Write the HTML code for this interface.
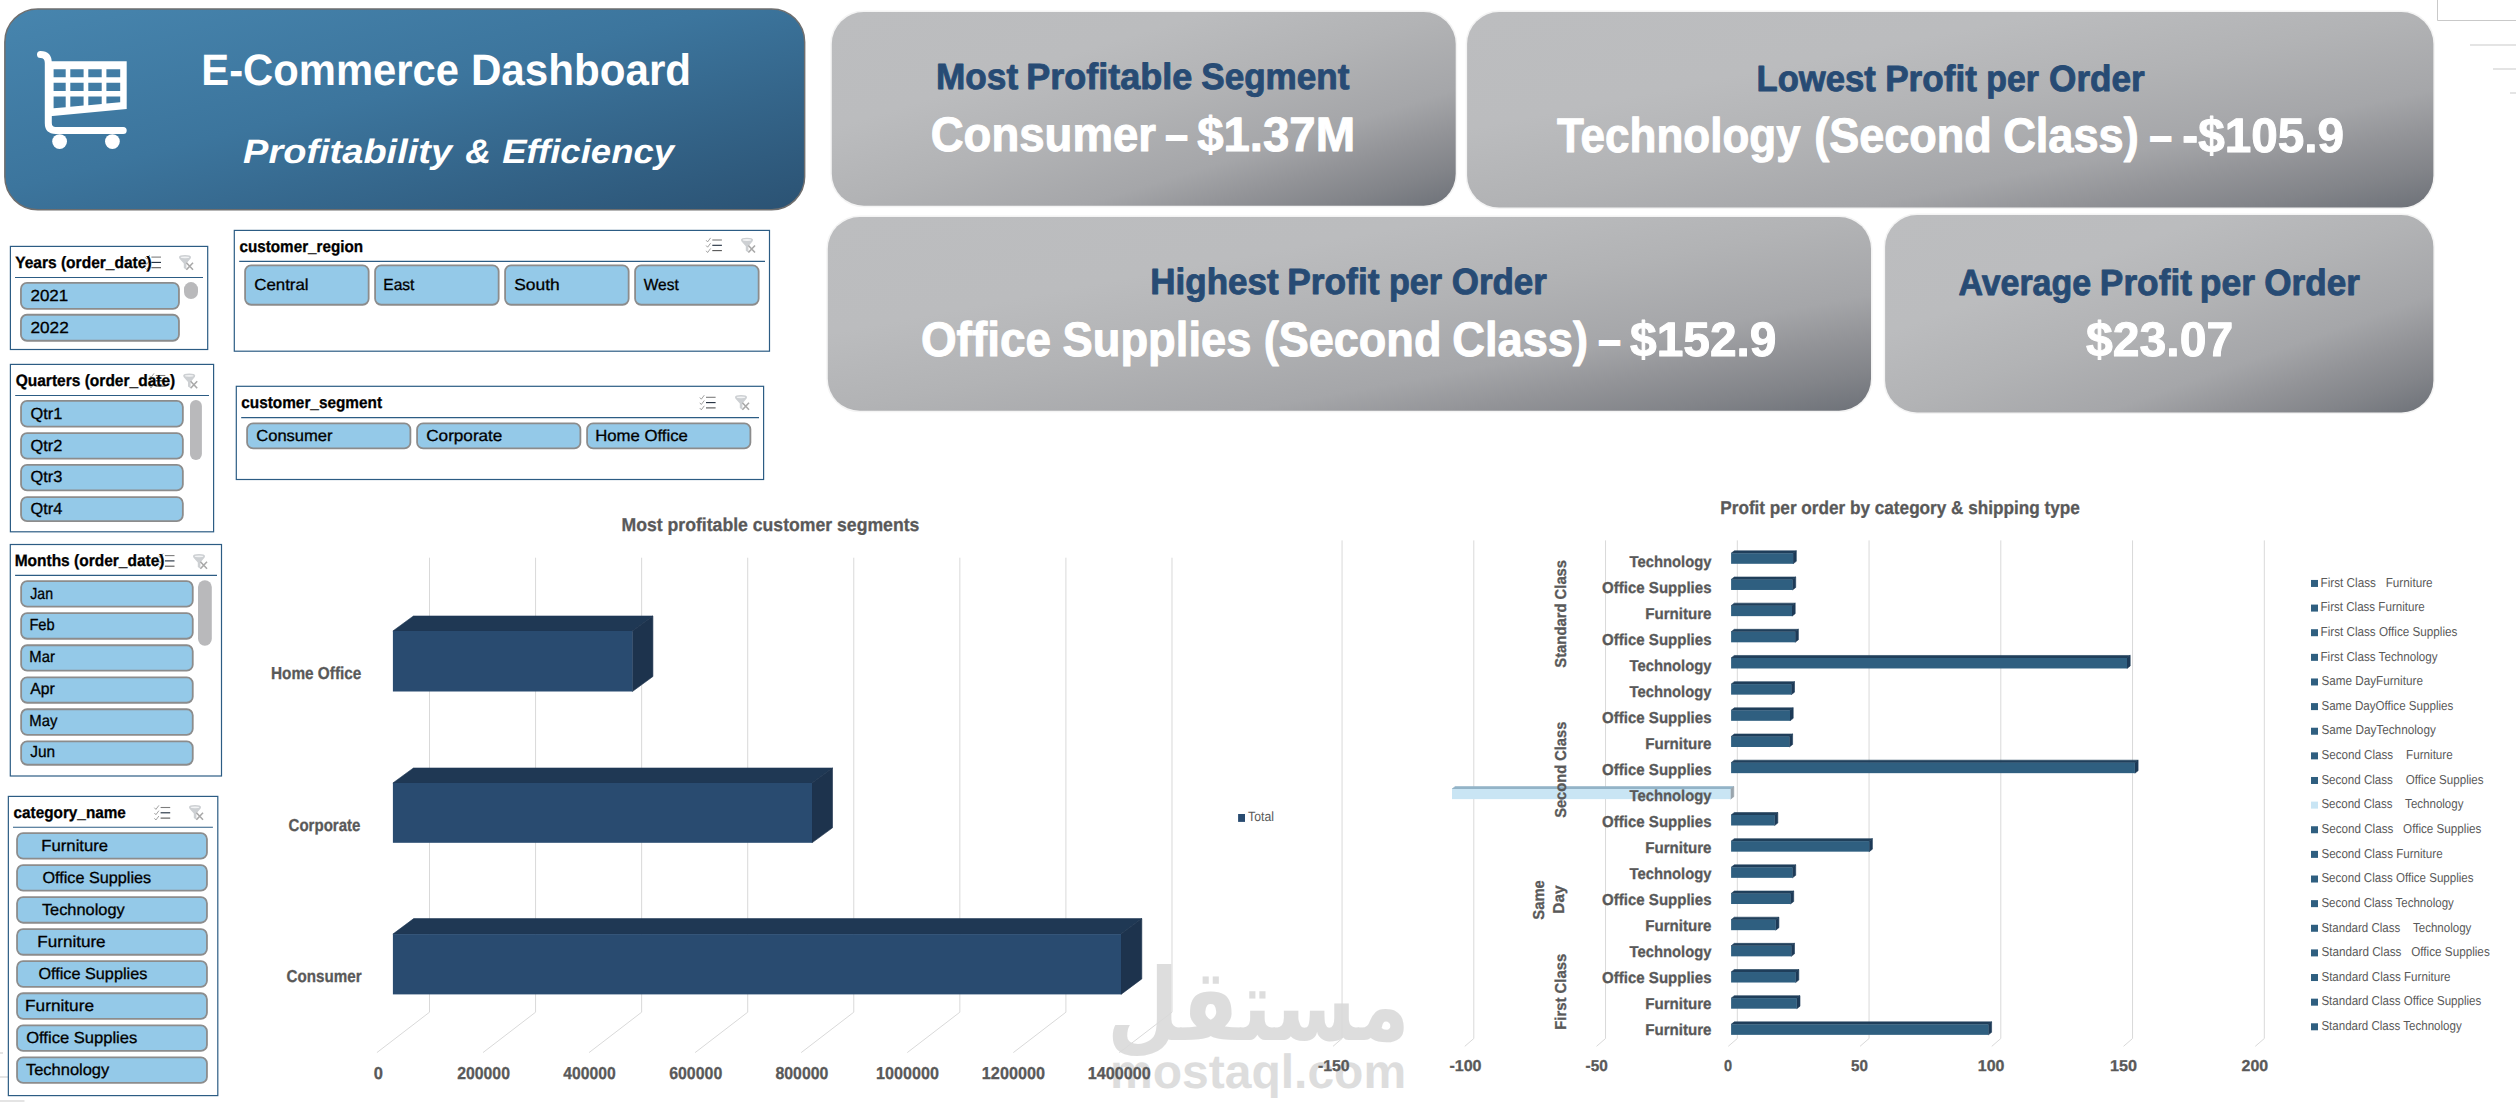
<!DOCTYPE html>
<html lang="en"><head><meta charset="utf-8"><title>E-Commerce Dashboard</title>
<style>html,body{margin:0;padding:0;background:#fff;width:2516px;height:1120px;overflow:hidden}svg{display:block}text{white-space:pre}</style></head>
<body>
<svg width="2516" height="1120" viewBox="0 0 2516 1120" font-family="'Liberation Sans', sans-serif" text-rendering="geometricPrecision">
<defs>
<linearGradient id="gh" x1="0" y1="0" x2="1" y2="1">
<stop offset="0" stop-color="#4785ae"/><stop offset="0.45" stop-color="#3c759d"/><stop offset="1" stop-color="#2b5273"/>
</linearGradient>
<linearGradient id="gk" x1="0" y1="0" x2="1" y2="1">
<stop offset="0" stop-color="#bcbdbf"/><stop offset="0.3" stop-color="#bbbcbe"/><stop offset="0.5" stop-color="#b2b3b5"/>
<stop offset="0.7" stop-color="#a5a6a9"/><stop offset="0.8" stop-color="#939498"/><stop offset="0.9" stop-color="#828489"/><stop offset="1" stop-color="#6d7178"/>
</linearGradient>
</defs>
<path d="M2437.5 0V20.5H2516" fill="none" stroke="#c9c9c9" stroke-width="1"/>
<line x1="2470.00" y1="45.00" x2="2516.00" y2="45.00" stroke="#c9c9c9" stroke-width="1"/>
<line x1="2493.00" y1="69.00" x2="2516.00" y2="69.00" stroke="#c9c9c9" stroke-width="1"/>
<line x1="2510.00" y1="93.00" x2="2516.00" y2="93.00" stroke="#c9c9c9" stroke-width="1"/>
<line x1="0.00" y1="1053.00" x2="3.00" y2="1053.00" stroke="#c9c9c9" stroke-width="1"/>
<line x1="0.00" y1="1077.00" x2="8.00" y2="1077.00" stroke="#c9c9c9" stroke-width="1"/>
<line x1="0.00" y1="1101.00" x2="24.50" y2="1101.00" stroke="#c9c9c9" stroke-width="1"/>
<rect x="4.85" y="8.90" width="799.80" height="200.90" rx="33" fill="url(#gh)" stroke="#6e6e6e" stroke-width="1.5"/>
<g fill="none" stroke="#fff" stroke-width="7" stroke-linecap="round" stroke-linejoin="round"><path d="M40.5 54.5Q48.3 54.5 48.3 63V123Q48.3 130.4 55.7 130.4H123.2"/></g>
<path fill="#fff" fill-rule="evenodd" d="M50 61.2H126.7V108.9L50 116.2ZM53.6 69.2H65.7V77.2H53.6ZM53.6 82.8H65.7V91.0H53.6ZM53.6 96.5H65.7V107.18L53.6 108.24ZM70.3 69.2H83.6V77.2H70.3ZM70.3 82.8H83.6V91.0H70.3ZM70.3 96.5H83.6V105.60L70.3 106.77ZM88.3 69.2H101.7V77.2H88.3ZM88.3 82.8H101.7V91.0H88.3ZM88.3 96.5H101.7V104.00L88.3 105.18ZM106.4 69.2H120.2V77.2H106.4ZM106.4 82.8H120.2V91.0H106.4ZM106.4 96.5H120.2V102.37L106.4 103.59Z"/>
<circle cx="59.6" cy="141.6" r="7.4" fill="#fff"/><circle cx="112.4" cy="141.6" r="7.4" fill="#fff"/>
<text y="84.70" font-size="44" fill="#fff" font-weight="bold"><tspan x="201.30" textLength="257.70" lengthAdjust="spacingAndGlyphs">E-Commerce</tspan> <tspan x="470.88" textLength="220.17" lengthAdjust="spacingAndGlyphs">Dashboard</tspan></text>
<text y="162.60" font-size="33.8" fill="#fff" font-weight="bold" font-style="italic"><tspan x="243.10" textLength="208.92" lengthAdjust="spacingAndGlyphs">Profitability</tspan> <tspan x="465.30" textLength="25.79" lengthAdjust="spacingAndGlyphs">&amp;</tspan> <tspan x="502.20" textLength="171.92" lengthAdjust="spacingAndGlyphs">Efficiency</tspan></text>
<rect x="831.80" y="12.10" width="623.90" height="193.70" rx="32" fill="url(#gk)" stroke="#f4f4f4" stroke-width="3" paint-order="stroke"/>
<rect x="1467.10" y="12.10" width="966.30" height="195.50" rx="32" fill="url(#gk)" stroke="#f4f4f4" stroke-width="3" paint-order="stroke"/>
<rect x="827.80" y="217.00" width="1043.20" height="193.80" rx="32" fill="url(#gk)" stroke="#f4f4f4" stroke-width="3" paint-order="stroke"/>
<rect x="1885.10" y="215.10" width="548.30" height="197.30" rx="32" fill="url(#gk)" stroke="#f4f4f4" stroke-width="3" paint-order="stroke"/>
<text y="89.30" font-size="36.5" fill="#274b74" font-weight="bold" stroke="#274b74" stroke-width="0.9" stroke-linejoin="round"><tspan x="935.97" textLength="82.18" lengthAdjust="spacingAndGlyphs">Most</tspan> <tspan x="1026.23" textLength="165.97" lengthAdjust="spacingAndGlyphs">Profitable</tspan> <tspan x="1201.24" textLength="148.21" lengthAdjust="spacingAndGlyphs">Segment</tspan></text>
<text y="151.40" font-size="48.5" fill="#fff" font-weight="bold" stroke="#fff" stroke-width="1.0" stroke-linejoin="round"><tspan x="930.66" textLength="225.32" lengthAdjust="spacingAndGlyphs">Consumer</tspan> <tspan x="1165.04" textLength="23.20" lengthAdjust="spacingAndGlyphs">–</tspan> <tspan x="1197.20" textLength="157.94" lengthAdjust="spacingAndGlyphs">$1.37M</tspan></text>
<text y="90.50" font-size="36.5" fill="#274b74" font-weight="bold" stroke="#274b74" stroke-width="0.9" stroke-linejoin="round"><tspan x="1756.50" textLength="119.35" lengthAdjust="spacingAndGlyphs">Lowest</tspan> <tspan x="1885.18" textLength="91.67" lengthAdjust="spacingAndGlyphs">Profit</tspan> <tspan x="1986.25" textLength="52.64" lengthAdjust="spacingAndGlyphs">per</tspan> <tspan x="2049.04" textLength="95.76" lengthAdjust="spacingAndGlyphs">Order</tspan></text>
<text y="152.40" font-size="48.5" fill="#fff" font-weight="bold" stroke="#fff" stroke-width="1.0" stroke-linejoin="round"><tspan x="1557.00" textLength="243.68" lengthAdjust="spacingAndGlyphs">Technology</tspan> <tspan x="1814.24" textLength="177.59" lengthAdjust="spacingAndGlyphs">(Second</tspan> <tspan x="2003.17" textLength="135.64" lengthAdjust="spacingAndGlyphs">Class)</tspan> <tspan x="2149.35" textLength="22.98" lengthAdjust="spacingAndGlyphs">–</tspan> <tspan x="2182.32" textLength="161.84" lengthAdjust="spacingAndGlyphs">-$105.9</tspan></text>
<text y="294.40" font-size="36.5" fill="#274b74" font-weight="bold" stroke="#274b74" stroke-width="0.9" stroke-linejoin="round"><tspan x="1150.28" textLength="128.37" lengthAdjust="spacingAndGlyphs">Highest</tspan> <tspan x="1287.27" textLength="92.18" lengthAdjust="spacingAndGlyphs">Profit</tspan> <tspan x="1388.93" textLength="53.16" lengthAdjust="spacingAndGlyphs">per</tspan> <tspan x="1451.74" textLength="95.15" lengthAdjust="spacingAndGlyphs">Order</tspan></text>
<text y="356.30" font-size="48.5" fill="#fff" font-weight="bold" stroke="#fff" stroke-width="1.0" stroke-linejoin="round"><tspan x="920.95" textLength="129.97" lengthAdjust="spacingAndGlyphs">Office</tspan> <tspan x="1062.47" textLength="188.98" lengthAdjust="spacingAndGlyphs">Supplies</tspan> <tspan x="1263.64" textLength="177.80" lengthAdjust="spacingAndGlyphs">(Second</tspan> <tspan x="1452.27" textLength="135.74" lengthAdjust="spacingAndGlyphs">Class)</tspan> <tspan x="1597.94" textLength="23.09" lengthAdjust="spacingAndGlyphs">–</tspan> <tspan x="1630.00" textLength="146.46" lengthAdjust="spacingAndGlyphs">$152.9</tspan></text>
<text y="294.60" font-size="36.5" fill="#274b74" font-weight="bold" stroke="#274b74" stroke-width="0.9" stroke-linejoin="round"><tspan x="1958.40" textLength="132.68" lengthAdjust="spacingAndGlyphs">Average</tspan> <tspan x="2099.87" textLength="92.08" lengthAdjust="spacingAndGlyphs">Profit</tspan> <tspan x="2199.86" textLength="55.14" lengthAdjust="spacingAndGlyphs">per</tspan> <tspan x="2264.34" textLength="95.56" lengthAdjust="spacingAndGlyphs">Order</tspan></text>
<text x="2086.00" y="355.80" font-size="48.5" fill="#fff" font-weight="bold" textLength="147.16" lengthAdjust="spacingAndGlyphs" stroke="#fff" stroke-width="1" stroke-linejoin="round">$23.07</text>
<rect x="10.40" y="246.40" width="197.30" height="103.10" fill="#fff" stroke="#2c5c84" stroke-width="1.2"/>
<line x1="15.00" y1="277.50" x2="203.00" y2="277.50" stroke="#2c5c84" stroke-width="1.1"/>
<line x1="151.40" y1="257.10" x2="161.00" y2="257.10" stroke="#7d7d7d" stroke-width="1.1"/>
<path d="M145.20 257.30l1.5 1.7l3-4" fill="none" stroke="#8a8a8a" stroke-width="0.8"/>
<line x1="151.40" y1="262.40" x2="161.00" y2="262.40" stroke="#1d2b3b" stroke-width="1.1"/>
<path d="M145.20 262.60l1.5 1.7l3-4" fill="none" stroke="#8a8a8a" stroke-width="0.8"/>
<line x1="151.40" y1="267.70" x2="161.00" y2="267.70" stroke="#555" stroke-width="1.1"/>
<path d="M145.20 267.90l1.5 1.7l3-4" fill="none" stroke="#8a8a8a" stroke-width="0.8"/>
<path d="M179.00 257.10q0-2 6-2t6 2q0 1.2-1 2.2l-3.6 4.2v6.2l-2.6-1.6v-4.6l-3.8-4.2q-1-1-1-2.2z" fill="#cdd0d3"/>
<ellipse cx="185.00" cy="257.30" rx="4.3" ry="0.9" fill="#f2f3f4"/>
<path d="M186.40 262.80l6.6 7M193.00 262.80l-6.6 7" stroke="#a9a9a9" stroke-width="1.6" fill="none"/>
<text x="15.20" y="267.60" font-size="16.5" fill="#000" font-weight="bold" textLength="136.37" lengthAdjust="spacingAndGlyphs" stroke="#000" stroke-width="0.3">Years (order_date)</text>
<rect x="20.95" y="282.95" width="158.00" height="25.90" rx="6" fill="#94c9e8" stroke="#8c8c8c" stroke-width="1.8"/>
<text x="30.50" y="300.90" font-size="16" fill="#000" textLength="37.69" lengthAdjust="spacingAndGlyphs" stroke="#000" stroke-width="0.3">2021</text>
<rect x="20.95" y="314.75" width="158.00" height="26.00" rx="6" fill="#94c9e8" stroke="#8c8c8c" stroke-width="1.8"/>
<text x="30.50" y="332.70" font-size="16" fill="#000" textLength="38.19" lengthAdjust="spacingAndGlyphs" stroke="#000" stroke-width="0.3">2022</text>
<rect x="184" y="282.1" width="14" height="17" rx="7" fill="#b9b9bb"/>
<rect x="10.40" y="364.40" width="203.20" height="167.40" fill="#fff" stroke="#2c5c84" stroke-width="1.2"/>
<line x1="15.20" y1="395.50" x2="209.00" y2="395.50" stroke="#2c5c84" stroke-width="1.1"/>
<line x1="155.70" y1="375.50" x2="165.30" y2="375.50" stroke="#7d7d7d" stroke-width="1.1"/>
<path d="M149.50 375.70l1.5 1.7l3-4" fill="none" stroke="#8a8a8a" stroke-width="0.8"/>
<line x1="155.70" y1="380.80" x2="165.30" y2="380.80" stroke="#1d2b3b" stroke-width="1.1"/>
<path d="M149.50 381.00l1.5 1.7l3-4" fill="none" stroke="#8a8a8a" stroke-width="0.8"/>
<line x1="155.70" y1="386.10" x2="165.30" y2="386.10" stroke="#555" stroke-width="1.1"/>
<path d="M149.50 386.30l1.5 1.7l3-4" fill="none" stroke="#8a8a8a" stroke-width="0.8"/>
<text x="15.70" y="385.90" font-size="16.5" fill="#000" font-weight="bold" textLength="159.57" lengthAdjust="spacingAndGlyphs" stroke="#000" stroke-width="0.3">Quarters (order_date)</text>
<path d="M183.20 375.60q0-2 6-2t6 2q0 1.2-1 2.2l-3.6 4.2v6.2l-2.6-1.6v-4.6l-3.8-4.2q-1-1-1-2.2z" fill="#cdd0d3"/>
<ellipse cx="189.20" cy="375.80" rx="4.3" ry="0.9" fill="#f2f3f4"/>
<path d="M190.60 381.30l6.6 7M197.20 381.30l-6.6 7" stroke="#a9a9a9" stroke-width="1.6" fill="none"/>
<rect x="21.05" y="400.95" width="161.80" height="25.60" rx="6" fill="#94c9e8" stroke="#8c8c8c" stroke-width="1.8"/>
<text x="30.60" y="418.60" font-size="16" fill="#000" textLength="31.80" lengthAdjust="spacingAndGlyphs" stroke="#000" stroke-width="0.3">Qtr1</text>
<rect x="21.05" y="433.15" width="161.80" height="25.40" rx="6" fill="#94c9e8" stroke="#8c8c8c" stroke-width="1.8"/>
<text x="30.60" y="450.50" font-size="16" fill="#000" textLength="31.80" lengthAdjust="spacingAndGlyphs" stroke="#000" stroke-width="0.3">Qtr2</text>
<rect x="21.05" y="464.95" width="161.80" height="25.50" rx="6" fill="#94c9e8" stroke="#8c8c8c" stroke-width="1.8"/>
<text x="30.60" y="482.20" font-size="16" fill="#000" textLength="31.80" lengthAdjust="spacingAndGlyphs" stroke="#000" stroke-width="0.3">Qtr3</text>
<rect x="21.05" y="497.15" width="161.80" height="23.90" rx="6" fill="#94c9e8" stroke="#8c8c8c" stroke-width="1.8"/>
<text x="30.60" y="513.60" font-size="16" fill="#000" textLength="31.80" lengthAdjust="spacingAndGlyphs" stroke="#000" stroke-width="0.3">Qtr4</text>
<rect x="190" y="400.1" width="11.9" height="59.8" rx="5.9" fill="#b9b9bb"/>
<rect x="10.30" y="544.50" width="211.20" height="231.50" fill="#fff" stroke="#2c5c84" stroke-width="1.2"/>
<line x1="15.10" y1="575.40" x2="217.00" y2="575.40" stroke="#2c5c84" stroke-width="1.1"/>
<line x1="164.90" y1="555.60" x2="174.50" y2="555.60" stroke="#7d7d7d" stroke-width="1.1"/>
<path d="M158.70 555.80l1.5 1.7l3-4" fill="none" stroke="#8a8a8a" stroke-width="0.8"/>
<line x1="164.90" y1="560.90" x2="174.50" y2="560.90" stroke="#1d2b3b" stroke-width="1.1"/>
<path d="M158.70 561.10l1.5 1.7l3-4" fill="none" stroke="#8a8a8a" stroke-width="0.8"/>
<line x1="164.90" y1="566.20" x2="174.50" y2="566.20" stroke="#555" stroke-width="1.1"/>
<path d="M158.70 566.40l1.5 1.7l3-4" fill="none" stroke="#8a8a8a" stroke-width="0.8"/>
<path d="M193.00 556.10q0-2 6-2t6 2q0 1.2-1 2.2l-3.6 4.2v6.2l-2.6-1.6v-4.6l-3.8-4.2q-1-1-1-2.2z" fill="#cdd0d3"/>
<ellipse cx="199.00" cy="556.30" rx="4.3" ry="0.9" fill="#f2f3f4"/>
<path d="M200.40 561.80l6.6 7M207.00 561.80l-6.6 7" stroke="#a9a9a9" stroke-width="1.6" fill="none"/>
<text x="14.66" y="565.70" font-size="16.5" fill="#000" font-weight="bold" textLength="149.80" lengthAdjust="spacingAndGlyphs" stroke="#000" stroke-width="0.3">Months (order_date)</text>
<rect x="21.15" y="581.05" width="171.60" height="25.60" rx="6" fill="#94c9e8" stroke="#8c8c8c" stroke-width="1.8"/>
<text x="30.30" y="598.60" font-size="16" fill="#000" textLength="22.69" lengthAdjust="spacingAndGlyphs" stroke="#000" stroke-width="0.3">Jan</text>
<rect x="21.15" y="613.05" width="171.60" height="25.70" rx="6" fill="#94c9e8" stroke="#8c8c8c" stroke-width="1.8"/>
<text x="29.39" y="630.40" font-size="16" fill="#000" textLength="25.22" lengthAdjust="spacingAndGlyphs" stroke="#000" stroke-width="0.3">Feb</text>
<rect x="21.15" y="645.25" width="171.60" height="25.40" rx="6" fill="#94c9e8" stroke="#8c8c8c" stroke-width="1.8"/>
<text x="29.37" y="662.10" font-size="16" fill="#000" textLength="25.50" lengthAdjust="spacingAndGlyphs" stroke="#000" stroke-width="0.3">Mar</text>
<rect x="21.15" y="677.35" width="171.60" height="25.40" rx="6" fill="#94c9e8" stroke="#8c8c8c" stroke-width="1.8"/>
<text x="30.30" y="694.00" font-size="16" fill="#000" textLength="24.54" lengthAdjust="spacingAndGlyphs" stroke="#000" stroke-width="0.3">Apr</text>
<rect x="21.15" y="709.25" width="171.60" height="25.60" rx="6" fill="#94c9e8" stroke="#8c8c8c" stroke-width="1.8"/>
<text x="29.37" y="725.80" font-size="16" fill="#000" textLength="28.03" lengthAdjust="spacingAndGlyphs" stroke="#000" stroke-width="0.3">May</text>
<rect x="21.15" y="741.35" width="171.60" height="23.40" rx="6" fill="#94c9e8" stroke="#8c8c8c" stroke-width="1.8"/>
<text x="30.30" y="757.40" font-size="16" fill="#000" textLength="24.87" lengthAdjust="spacingAndGlyphs" stroke="#000" stroke-width="0.3">Jun</text>
<rect x="198" y="580.2" width="13.8" height="65.5" rx="6.9" fill="#b9b9bb"/>
<rect x="8.35" y="796.40" width="209.45" height="299.20" fill="#fff" stroke="#2c5c84" stroke-width="1.2"/>
<line x1="13.00" y1="827.30" x2="212.90" y2="827.30" stroke="#2c5c84" stroke-width="1.1"/>
<line x1="160.60" y1="807.50" x2="170.20" y2="807.50" stroke="#7d7d7d" stroke-width="1.1"/>
<path d="M154.40 807.70l1.5 1.7l3-4" fill="none" stroke="#8a8a8a" stroke-width="0.8"/>
<line x1="160.60" y1="812.80" x2="170.20" y2="812.80" stroke="#1d2b3b" stroke-width="1.1"/>
<path d="M154.40 813.00l1.5 1.7l3-4" fill="none" stroke="#8a8a8a" stroke-width="0.8"/>
<line x1="160.60" y1="818.10" x2="170.20" y2="818.10" stroke="#555" stroke-width="1.1"/>
<path d="M154.40 818.30l1.5 1.7l3-4" fill="none" stroke="#8a8a8a" stroke-width="0.8"/>
<path d="M189.00 807.10q0-2 6-2t6 2q0 1.2-1 2.2l-3.6 4.2v6.2l-2.6-1.6v-4.6l-3.8-4.2q-1-1-1-2.2z" fill="#cdd0d3"/>
<ellipse cx="195.00" cy="807.30" rx="4.3" ry="0.9" fill="#f2f3f4"/>
<path d="M196.40 812.80l6.6 7M203.00 812.80l-6.6 7" stroke="#a9a9a9" stroke-width="1.6" fill="none"/>
<text x="13.60" y="817.50" font-size="16.5" fill="#000" font-weight="bold" textLength="112.26" lengthAdjust="spacingAndGlyphs" stroke="#000" stroke-width="0.3">category_name</text>
<rect x="17.05" y="833.05" width="189.90" height="25.60" rx="6" fill="#94c9e8" stroke="#8c8c8c" stroke-width="1.8"/>
<text x="41.36" y="850.70" font-size="16" fill="#000" textLength="66.74" lengthAdjust="spacingAndGlyphs" stroke="#000" stroke-width="0.3">Furniture</text>
<rect x="17.05" y="865.09" width="189.90" height="25.60" rx="6" fill="#94c9e8" stroke="#8c8c8c" stroke-width="1.8"/>
<text x="42.40" y="882.70" font-size="16" fill="#000" textLength="108.80" lengthAdjust="spacingAndGlyphs" stroke="#000" stroke-width="0.3">Office Supplies</text>
<rect x="17.05" y="897.13" width="189.90" height="25.60" rx="6" fill="#94c9e8" stroke="#8c8c8c" stroke-width="1.8"/>
<text x="41.90" y="914.70" font-size="16" fill="#000" textLength="82.80" lengthAdjust="spacingAndGlyphs" stroke="#000" stroke-width="0.3">Technology</text>
<rect x="17.05" y="929.17" width="189.90" height="25.60" rx="6" fill="#94c9e8" stroke="#8c8c8c" stroke-width="1.8"/>
<text x="37.33" y="946.70" font-size="16" fill="#000" textLength="68.26" lengthAdjust="spacingAndGlyphs" stroke="#000" stroke-width="0.3">Furniture</text>
<rect x="17.05" y="961.21" width="189.90" height="25.60" rx="6" fill="#94c9e8" stroke="#8c8c8c" stroke-width="1.8"/>
<text x="38.40" y="978.70" font-size="16" fill="#000" textLength="108.90" lengthAdjust="spacingAndGlyphs" stroke="#000" stroke-width="0.3">Office Supplies</text>
<rect x="17.05" y="993.25" width="189.90" height="25.60" rx="6" fill="#94c9e8" stroke="#8c8c8c" stroke-width="1.8"/>
<text x="25.12" y="1010.70" font-size="16" fill="#000" textLength="68.87" lengthAdjust="spacingAndGlyphs" stroke="#000" stroke-width="0.3">Furniture</text>
<rect x="17.05" y="1025.29" width="189.90" height="25.60" rx="6" fill="#94c9e8" stroke="#8c8c8c" stroke-width="1.8"/>
<text x="26.20" y="1042.70" font-size="16" fill="#000" textLength="111.10" lengthAdjust="spacingAndGlyphs" stroke="#000" stroke-width="0.3">Office Supplies</text>
<rect x="17.05" y="1057.33" width="189.90" height="25.60" rx="6" fill="#94c9e8" stroke="#8c8c8c" stroke-width="1.8"/>
<text x="25.90" y="1074.70" font-size="16" fill="#000" textLength="83.40" lengthAdjust="spacingAndGlyphs" stroke="#000" stroke-width="0.3">Technology</text>
<rect x="234.30" y="230.40" width="535.20" height="120.80" fill="#fff" stroke="#2c5c84" stroke-width="1.2"/>
<line x1="239.20" y1="261.40" x2="765.00" y2="261.40" stroke="#2c5c84" stroke-width="1.1"/>
<line x1="712.30" y1="240.00" x2="721.90" y2="240.00" stroke="#7d7d7d" stroke-width="1.1"/>
<path d="M706.10 240.20l1.5 1.7l3-4" fill="none" stroke="#8a8a8a" stroke-width="0.8"/>
<line x1="712.30" y1="245.30" x2="721.90" y2="245.30" stroke="#1d2b3b" stroke-width="1.1"/>
<path d="M706.10 245.50l1.5 1.7l3-4" fill="none" stroke="#8a8a8a" stroke-width="0.8"/>
<line x1="712.30" y1="250.60" x2="721.90" y2="250.60" stroke="#555" stroke-width="1.1"/>
<path d="M706.10 250.80l1.5 1.7l3-4" fill="none" stroke="#8a8a8a" stroke-width="0.8"/>
<path d="M741.00 239.80q0-2 6-2t6 2q0 1.2-1 2.2l-3.6 4.2v6.2l-2.6-1.6v-4.6l-3.8-4.2q-1-1-1-2.2z" fill="#cdd0d3"/>
<ellipse cx="747.00" cy="240.00" rx="4.3" ry="0.9" fill="#f2f3f4"/>
<path d="M748.40 245.50l6.6 7M755.00 245.50l-6.6 7" stroke="#a9a9a9" stroke-width="1.6" fill="none"/>
<text x="239.50" y="252.00" font-size="16.5" fill="#000" font-weight="bold" textLength="123.57" lengthAdjust="spacingAndGlyphs" stroke="#000" stroke-width="0.3">customer_region</text>
<rect x="245.10" y="265.35" width="123.55" height="39.40" rx="6" fill="#94c9e8" stroke="#8c8c8c" stroke-width="1.8"/>
<text x="254.25" y="289.50" font-size="16" fill="#000" textLength="54.33" lengthAdjust="spacingAndGlyphs" stroke="#000" stroke-width="0.3">Central</text>
<rect x="375.10" y="265.35" width="123.55" height="39.40" rx="6" fill="#94c9e8" stroke="#8c8c8c" stroke-width="1.8"/>
<text x="383.28" y="289.50" font-size="16" fill="#000" textLength="31.18" lengthAdjust="spacingAndGlyphs" stroke="#000" stroke-width="0.3">East</text>
<rect x="505.10" y="265.35" width="123.55" height="39.40" rx="6" fill="#94c9e8" stroke="#8c8c8c" stroke-width="1.8"/>
<text x="514.25" y="289.50" font-size="16" fill="#000" textLength="45.48" lengthAdjust="spacingAndGlyphs" stroke="#000" stroke-width="0.3">South</text>
<rect x="635.10" y="265.35" width="123.55" height="39.40" rx="6" fill="#94c9e8" stroke="#8c8c8c" stroke-width="1.8"/>
<text x="643.75" y="289.50" font-size="16" fill="#000" textLength="34.96" lengthAdjust="spacingAndGlyphs" stroke="#000" stroke-width="0.3">West</text>
<rect x="236.30" y="386.30" width="527.30" height="93.20" fill="#fff" stroke="#2c5c84" stroke-width="1.2"/>
<line x1="241.20" y1="417.60" x2="759.00" y2="417.60" stroke="#2c5c84" stroke-width="1.1"/>
<line x1="706.00" y1="397.30" x2="715.60" y2="397.30" stroke="#7d7d7d" stroke-width="1.1"/>
<path d="M699.80 397.50l1.5 1.7l3-4" fill="none" stroke="#8a8a8a" stroke-width="0.8"/>
<line x1="706.00" y1="402.60" x2="715.60" y2="402.60" stroke="#1d2b3b" stroke-width="1.1"/>
<path d="M699.80 402.80l1.5 1.7l3-4" fill="none" stroke="#8a8a8a" stroke-width="0.8"/>
<line x1="706.00" y1="407.90" x2="715.60" y2="407.90" stroke="#555" stroke-width="1.1"/>
<path d="M699.80 408.10l1.5 1.7l3-4" fill="none" stroke="#8a8a8a" stroke-width="0.8"/>
<path d="M735.00 397.10q0-2 6-2t6 2q0 1.2-1 2.2l-3.6 4.2v6.2l-2.6-1.6v-4.6l-3.8-4.2q-1-1-1-2.2z" fill="#cdd0d3"/>
<ellipse cx="741.00" cy="397.30" rx="4.3" ry="0.9" fill="#f2f3f4"/>
<path d="M742.40 402.80l6.6 7M749.00 402.80l-6.6 7" stroke="#a9a9a9" stroke-width="1.6" fill="none"/>
<text x="241.25" y="407.50" font-size="16.5" fill="#000" font-weight="bold" textLength="140.78" lengthAdjust="spacingAndGlyphs" stroke="#000" stroke-width="0.3">customer_segment</text>
<rect x="247.10" y="423.35" width="163.30" height="25.10" rx="6" fill="#94c9e8" stroke="#8c8c8c" stroke-width="1.8"/>
<text x="256.25" y="440.50" font-size="16" fill="#000" textLength="76.31" lengthAdjust="spacingAndGlyphs" stroke="#000" stroke-width="0.3">Consumer</text>
<rect x="417.10" y="423.35" width="163.30" height="25.10" rx="6" fill="#94c9e8" stroke="#8c8c8c" stroke-width="1.8"/>
<text x="426.25" y="440.50" font-size="16" fill="#000" textLength="76.14" lengthAdjust="spacingAndGlyphs" stroke="#000" stroke-width="0.3">Corporate</text>
<rect x="587.10" y="423.35" width="163.30" height="25.10" rx="6" fill="#94c9e8" stroke="#8c8c8c" stroke-width="1.8"/>
<text x="595.20" y="440.50" font-size="16" fill="#000" textLength="92.69" lengthAdjust="spacingAndGlyphs" stroke="#000" stroke-width="0.3">Home Office</text>
<g>
<text x="1107.03" y="1040.00" font-size="100" fill="#c8c8c8" font-weight="bold" textLength="302.69" lengthAdjust="spacingAndGlyphs" font-family="'DejaVu Sans', sans-serif" opacity="0.6">مستقل</text>
<text x="1110.00" y="1088.00" font-size="48" fill="#c8c8c8" font-weight="bold" textLength="296.08" lengthAdjust="spacingAndGlyphs" opacity="0.6">mostaql.com</text>
</g>
<path d="M429.50 557.7V1012.2L376.90 1052.6" fill="none" stroke="#d9d9d9" stroke-width="1"/>
<path d="M535.57 557.7V1012.2L482.97 1052.6" fill="none" stroke="#d9d9d9" stroke-width="1"/>
<path d="M641.64 557.7V1012.2L589.04 1052.6" fill="none" stroke="#d9d9d9" stroke-width="1"/>
<path d="M747.71 557.7V1012.2L695.11 1052.6" fill="none" stroke="#d9d9d9" stroke-width="1"/>
<path d="M853.78 557.7V1012.2L801.18 1052.6" fill="none" stroke="#d9d9d9" stroke-width="1"/>
<path d="M959.85 557.7V1012.2L907.25 1052.6" fill="none" stroke="#d9d9d9" stroke-width="1"/>
<path d="M1065.92 557.7V1012.2L1013.32 1052.6" fill="none" stroke="#d9d9d9" stroke-width="1"/>
<path d="M1171.99 557.7V1012.2L1119.39 1052.6" fill="none" stroke="#d9d9d9" stroke-width="1"/>
<text x="621.56" y="531.20" font-size="18.7" fill="#595959" font-weight="bold" textLength="297.81" lengthAdjust="spacingAndGlyphs" stroke="#595959" stroke-width="0.3">Most profitable customer segments</text>
<path d="M392.90 631.00L413.40 616.00H652.90L632.40 631.00Z" fill="#1f3854" stroke="#1f3854" stroke-width="0.6" stroke-linejoin="round"/>
<path d="M632.40 631.00L652.90 616.00V676.50L632.40 691.50Z" fill="#1d334d" stroke="#1d334d" stroke-width="0.6" stroke-linejoin="round"/>
<rect x="392.90" y="631.00" width="239.50" height="60.50" fill="#294b70"/>
<path d="M392.90 783.00L413.40 768.00H832.50L812.00 783.00Z" fill="#1f3854" stroke="#1f3854" stroke-width="0.6" stroke-linejoin="round"/>
<path d="M812.00 783.00L832.50 768.00V827.80L812.00 842.80Z" fill="#1d334d" stroke="#1d334d" stroke-width="0.6" stroke-linejoin="round"/>
<rect x="392.90" y="783.00" width="419.10" height="59.80" fill="#294b70"/>
<path d="M392.90 934.10L413.70 918.60H1141.80L1121.00 934.10Z" fill="#1f3854" stroke="#1f3854" stroke-width="0.6" stroke-linejoin="round"/>
<path d="M1121.00 934.10L1141.80 918.60V978.90L1121.00 994.40Z" fill="#1d334d" stroke="#1d334d" stroke-width="0.6" stroke-linejoin="round"/>
<rect x="392.90" y="934.10" width="728.10" height="60.30" fill="#294b70"/>
<text x="271.01" y="679.00" font-size="17.3" fill="#595959" font-weight="bold" textLength="90.34" lengthAdjust="spacingAndGlyphs" stroke="#595959" stroke-width="0.3">Home Office</text>
<text x="288.50" y="830.50" font-size="17.3" fill="#595959" font-weight="bold" textLength="71.96" lengthAdjust="spacingAndGlyphs" stroke="#595959" stroke-width="0.3">Corporate</text>
<text x="286.50" y="982.00" font-size="17.3" fill="#595959" font-weight="bold" textLength="75.06" lengthAdjust="spacingAndGlyphs" stroke="#595959" stroke-width="0.3">Consumer</text>
<text x="373.70" y="1079.10" font-size="17.3" fill="#595959" font-weight="bold" textLength="9.18" lengthAdjust="spacingAndGlyphs" stroke="#595959" stroke-width="0.3">0</text>
<text x="457.20" y="1079.10" font-size="17.3" fill="#595959" font-weight="bold" textLength="52.76" lengthAdjust="spacingAndGlyphs" stroke="#595959" stroke-width="0.3">200000</text>
<text x="563.30" y="1079.10" font-size="17.3" fill="#595959" font-weight="bold" textLength="52.46" lengthAdjust="spacingAndGlyphs" stroke="#595959" stroke-width="0.3">400000</text>
<text x="669.20" y="1079.10" font-size="17.3" fill="#595959" font-weight="bold" textLength="53.06" lengthAdjust="spacingAndGlyphs" stroke="#595959" stroke-width="0.3">600000</text>
<text x="775.50" y="1079.10" font-size="17.3" fill="#595959" font-weight="bold" textLength="52.86" lengthAdjust="spacingAndGlyphs" stroke="#595959" stroke-width="0.3">800000</text>
<text x="876.07" y="1079.10" font-size="17.3" fill="#595959" font-weight="bold" textLength="62.80" lengthAdjust="spacingAndGlyphs" stroke="#595959" stroke-width="0.3">1000000</text>
<text x="981.86" y="1079.10" font-size="17.3" fill="#595959" font-weight="bold" textLength="63.11" lengthAdjust="spacingAndGlyphs" stroke="#595959" stroke-width="0.3">1200000</text>
<text x="1087.86" y="1079.10" font-size="17.3" fill="#595959" font-weight="bold" textLength="62.91" lengthAdjust="spacingAndGlyphs" stroke="#595959" stroke-width="0.3">1400000</text>
<rect x="1238.10" y="814.00" width="6.90" height="7.90" fill="#294b70"/>
<text x="1248.10" y="821.00" font-size="13.5" fill="#595959" textLength="25.80" lengthAdjust="spacingAndGlyphs">Total</text>
<path d="M1342.05 540.4V1038.5L1333.05 1046.3" fill="none" stroke="#d9d9d9" stroke-width="1"/>
<path d="M1473.80 540.4V1038.5L1464.80 1046.3" fill="none" stroke="#d9d9d9" stroke-width="1"/>
<path d="M1605.55 540.4V1038.5L1596.55 1046.3" fill="none" stroke="#d9d9d9" stroke-width="1"/>
<path d="M1737.30 540.4V1038.5L1728.30 1046.3" fill="none" stroke="#d9d9d9" stroke-width="1"/>
<path d="M1869.05 540.4V1038.5L1860.05 1046.3" fill="none" stroke="#d9d9d9" stroke-width="1"/>
<path d="M2000.80 540.4V1038.5L1991.80 1046.3" fill="none" stroke="#d9d9d9" stroke-width="1"/>
<path d="M2132.55 540.4V1038.5L2123.55 1046.3" fill="none" stroke="#d9d9d9" stroke-width="1"/>
<path d="M2264.30 540.4V1038.5L2255.30 1046.3" fill="none" stroke="#d9d9d9" stroke-width="1"/>
<text x="1720.28" y="514.30" font-size="18.7" fill="#595959" font-weight="bold" textLength="359.58" lengthAdjust="spacingAndGlyphs" stroke="#595959" stroke-width="0.3">Profit per order by category &amp; shipping type</text>
<path d="M1731.10 553.30L1734.30 550.80H1796.30L1793.10 553.30Z" fill="#203f5b" stroke="#203f5b" stroke-width="0.6" stroke-linejoin="round"/>
<path d="M1793.10 553.30L1796.30 550.80V561.30L1793.10 563.80Z" fill="#1d3a57" stroke="#1d3a57" stroke-width="0.6" stroke-linejoin="round"/>
<rect x="1731.10" y="553.30" width="62.00" height="10.50" fill="#2f5f80"/>
<path d="M1731.10 579.47L1734.30 576.97H1795.70L1792.50 579.47Z" fill="#203f5b" stroke="#203f5b" stroke-width="0.6" stroke-linejoin="round"/>
<path d="M1792.50 579.47L1795.70 576.97V587.47L1792.50 589.97Z" fill="#1d3a57" stroke="#1d3a57" stroke-width="0.6" stroke-linejoin="round"/>
<rect x="1731.10" y="579.47" width="61.40" height="10.50" fill="#2f5f80"/>
<path d="M1731.10 605.64L1734.30 603.14H1795.20L1792.00 605.64Z" fill="#203f5b" stroke="#203f5b" stroke-width="0.6" stroke-linejoin="round"/>
<path d="M1792.00 605.64L1795.20 603.14V613.64L1792.00 616.14Z" fill="#1d3a57" stroke="#1d3a57" stroke-width="0.6" stroke-linejoin="round"/>
<rect x="1731.10" y="605.64" width="60.90" height="10.50" fill="#2f5f80"/>
<path d="M1731.10 631.81L1734.30 629.31H1798.40L1795.20 631.81Z" fill="#203f5b" stroke="#203f5b" stroke-width="0.6" stroke-linejoin="round"/>
<path d="M1795.20 631.81L1798.40 629.31V639.81L1795.20 642.31Z" fill="#1d3a57" stroke="#1d3a57" stroke-width="0.6" stroke-linejoin="round"/>
<rect x="1731.10" y="631.81" width="64.10" height="10.50" fill="#2f5f80"/>
<path d="M1731.10 657.98L1734.30 655.48H2130.20L2127.00 657.98Z" fill="#203f5b" stroke="#203f5b" stroke-width="0.6" stroke-linejoin="round"/>
<path d="M2127.00 657.98L2130.20 655.48V665.98L2127.00 668.48Z" fill="#1d3a57" stroke="#1d3a57" stroke-width="0.6" stroke-linejoin="round"/>
<rect x="1731.10" y="657.98" width="395.90" height="10.50" fill="#2f5f80"/>
<path d="M1731.10 684.15L1734.30 681.65H1794.50L1791.30 684.15Z" fill="#203f5b" stroke="#203f5b" stroke-width="0.6" stroke-linejoin="round"/>
<path d="M1791.30 684.15L1794.50 681.65V692.15L1791.30 694.65Z" fill="#1d3a57" stroke="#1d3a57" stroke-width="0.6" stroke-linejoin="round"/>
<rect x="1731.10" y="684.15" width="60.20" height="10.50" fill="#2f5f80"/>
<path d="M1731.10 710.32L1734.30 707.82H1793.20L1790.00 710.32Z" fill="#203f5b" stroke="#203f5b" stroke-width="0.6" stroke-linejoin="round"/>
<path d="M1790.00 710.32L1793.20 707.82V718.32L1790.00 720.82Z" fill="#1d3a57" stroke="#1d3a57" stroke-width="0.6" stroke-linejoin="round"/>
<rect x="1731.10" y="710.32" width="58.90" height="10.50" fill="#2f5f80"/>
<path d="M1731.10 736.49L1734.30 733.99H1792.60L1789.40 736.49Z" fill="#203f5b" stroke="#203f5b" stroke-width="0.6" stroke-linejoin="round"/>
<path d="M1789.40 736.49L1792.60 733.99V744.49L1789.40 746.99Z" fill="#1d3a57" stroke="#1d3a57" stroke-width="0.6" stroke-linejoin="round"/>
<rect x="1731.10" y="736.49" width="58.30" height="10.50" fill="#2f5f80"/>
<path d="M1731.10 762.66L1734.30 760.16H2138.10L2134.90 762.66Z" fill="#203f5b" stroke="#203f5b" stroke-width="0.6" stroke-linejoin="round"/>
<path d="M2134.90 762.66L2138.10 760.16V770.66L2134.90 773.16Z" fill="#1d3a57" stroke="#1d3a57" stroke-width="0.6" stroke-linejoin="round"/>
<rect x="1731.10" y="762.66" width="403.80" height="10.50" fill="#2f5f80"/>
<path d="M1452.00 789.03L1455.20 786.53H1733.80L1730.60 789.03Z" fill="#93b4c8" stroke="#93b4c8" stroke-width="0.6" stroke-linejoin="round"/>
<path d="M1730.60 789.03L1733.80 786.53V796.63L1730.60 799.13Z" fill="#9aa5ad" stroke="#9aa5ad" stroke-width="0.6" stroke-linejoin="round"/>
<rect x="1452.00" y="789.03" width="278.60" height="10.10" fill="#c9e5f4"/>
<path d="M1731.10 815.00L1734.30 812.50H1777.80L1774.60 815.00Z" fill="#203f5b" stroke="#203f5b" stroke-width="0.6" stroke-linejoin="round"/>
<path d="M1774.60 815.00L1777.80 812.50V823.00L1774.60 825.50Z" fill="#1d3a57" stroke="#1d3a57" stroke-width="0.6" stroke-linejoin="round"/>
<rect x="1731.10" y="815.00" width="43.50" height="10.50" fill="#2f5f80"/>
<path d="M1731.10 841.17L1734.30 838.67H1872.40L1869.20 841.17Z" fill="#203f5b" stroke="#203f5b" stroke-width="0.6" stroke-linejoin="round"/>
<path d="M1869.20 841.17L1872.40 838.67V849.17L1869.20 851.67Z" fill="#1d3a57" stroke="#1d3a57" stroke-width="0.6" stroke-linejoin="round"/>
<rect x="1731.10" y="841.17" width="138.10" height="10.50" fill="#2f5f80"/>
<path d="M1731.10 867.34L1734.30 864.84H1795.70L1792.50 867.34Z" fill="#203f5b" stroke="#203f5b" stroke-width="0.6" stroke-linejoin="round"/>
<path d="M1792.50 867.34L1795.70 864.84V875.34L1792.50 877.84Z" fill="#1d3a57" stroke="#1d3a57" stroke-width="0.6" stroke-linejoin="round"/>
<rect x="1731.10" y="867.34" width="61.40" height="10.50" fill="#2f5f80"/>
<path d="M1731.10 893.51L1734.30 891.01H1793.70L1790.50 893.51Z" fill="#203f5b" stroke="#203f5b" stroke-width="0.6" stroke-linejoin="round"/>
<path d="M1790.50 893.51L1793.70 891.01V901.51L1790.50 904.01Z" fill="#1d3a57" stroke="#1d3a57" stroke-width="0.6" stroke-linejoin="round"/>
<rect x="1731.10" y="893.51" width="59.40" height="10.50" fill="#2f5f80"/>
<path d="M1731.10 919.68L1734.30 917.18H1778.90L1775.70 919.68Z" fill="#203f5b" stroke="#203f5b" stroke-width="0.6" stroke-linejoin="round"/>
<path d="M1775.70 919.68L1778.90 917.18V927.68L1775.70 930.18Z" fill="#1d3a57" stroke="#1d3a57" stroke-width="0.6" stroke-linejoin="round"/>
<rect x="1731.10" y="919.68" width="44.60" height="10.50" fill="#2f5f80"/>
<path d="M1731.10 945.85L1734.30 943.35H1794.50L1791.30 945.85Z" fill="#203f5b" stroke="#203f5b" stroke-width="0.6" stroke-linejoin="round"/>
<path d="M1791.30 945.85L1794.50 943.35V953.85L1791.30 956.35Z" fill="#1d3a57" stroke="#1d3a57" stroke-width="0.6" stroke-linejoin="round"/>
<rect x="1731.10" y="945.85" width="60.20" height="10.50" fill="#2f5f80"/>
<path d="M1731.10 972.02L1734.30 969.52H1798.80L1795.60 972.02Z" fill="#203f5b" stroke="#203f5b" stroke-width="0.6" stroke-linejoin="round"/>
<path d="M1795.60 972.02L1798.80 969.52V980.02L1795.60 982.52Z" fill="#1d3a57" stroke="#1d3a57" stroke-width="0.6" stroke-linejoin="round"/>
<rect x="1731.10" y="972.02" width="64.50" height="10.50" fill="#2f5f80"/>
<path d="M1731.10 998.19L1734.30 995.69H1800.00L1796.80 998.19Z" fill="#203f5b" stroke="#203f5b" stroke-width="0.6" stroke-linejoin="round"/>
<path d="M1796.80 998.19L1800.00 995.69V1006.19L1796.80 1008.69Z" fill="#1d3a57" stroke="#1d3a57" stroke-width="0.6" stroke-linejoin="round"/>
<rect x="1731.10" y="998.19" width="65.70" height="10.50" fill="#2f5f80"/>
<path d="M1731.10 1024.36L1734.30 1021.86H1991.60L1988.40 1024.36Z" fill="#203f5b" stroke="#203f5b" stroke-width="0.6" stroke-linejoin="round"/>
<path d="M1988.40 1024.36L1991.60 1021.86V1032.36L1988.40 1034.86Z" fill="#1d3a57" stroke="#1d3a57" stroke-width="0.6" stroke-linejoin="round"/>
<rect x="1731.10" y="1024.36" width="257.30" height="10.50" fill="#2f5f80"/>
<text x="1629.50" y="566.80" font-size="15.8" fill="#595959" font-weight="bold" textLength="82.00" lengthAdjust="spacingAndGlyphs" stroke="#595959" stroke-width="0.3">Technology</text>
<text x="1602.10" y="592.83" font-size="15.8" fill="#595959" font-weight="bold" textLength="109.40" lengthAdjust="spacingAndGlyphs" stroke="#595959" stroke-width="0.3">Office Supplies</text>
<text x="1645.24" y="618.86" font-size="15.8" fill="#595959" font-weight="bold" textLength="66.25" lengthAdjust="spacingAndGlyphs" stroke="#595959" stroke-width="0.3">Furniture</text>
<text x="1602.10" y="644.89" font-size="15.8" fill="#595959" font-weight="bold" textLength="109.40" lengthAdjust="spacingAndGlyphs" stroke="#595959" stroke-width="0.3">Office Supplies</text>
<text x="1629.50" y="670.92" font-size="15.8" fill="#595959" font-weight="bold" textLength="82.00" lengthAdjust="spacingAndGlyphs" stroke="#595959" stroke-width="0.3">Technology</text>
<text x="1629.50" y="696.95" font-size="15.8" fill="#595959" font-weight="bold" textLength="82.00" lengthAdjust="spacingAndGlyphs" stroke="#595959" stroke-width="0.3">Technology</text>
<text x="1602.10" y="722.98" font-size="15.8" fill="#595959" font-weight="bold" textLength="109.40" lengthAdjust="spacingAndGlyphs" stroke="#595959" stroke-width="0.3">Office Supplies</text>
<text x="1645.24" y="749.01" font-size="15.8" fill="#595959" font-weight="bold" textLength="66.25" lengthAdjust="spacingAndGlyphs" stroke="#595959" stroke-width="0.3">Furniture</text>
<text x="1602.10" y="775.04" font-size="15.8" fill="#595959" font-weight="bold" textLength="109.40" lengthAdjust="spacingAndGlyphs" stroke="#595959" stroke-width="0.3">Office Supplies</text>
<text x="1629.50" y="801.07" font-size="15.8" fill="#595959" font-weight="bold" textLength="82.00" lengthAdjust="spacingAndGlyphs" stroke="#595959" stroke-width="0.3">Technology</text>
<text x="1602.10" y="827.10" font-size="15.8" fill="#595959" font-weight="bold" textLength="109.40" lengthAdjust="spacingAndGlyphs" stroke="#595959" stroke-width="0.3">Office Supplies</text>
<text x="1645.24" y="853.13" font-size="15.8" fill="#595959" font-weight="bold" textLength="66.25" lengthAdjust="spacingAndGlyphs" stroke="#595959" stroke-width="0.3">Furniture</text>
<text x="1629.50" y="879.16" font-size="15.8" fill="#595959" font-weight="bold" textLength="82.00" lengthAdjust="spacingAndGlyphs" stroke="#595959" stroke-width="0.3">Technology</text>
<text x="1602.10" y="905.19" font-size="15.8" fill="#595959" font-weight="bold" textLength="109.40" lengthAdjust="spacingAndGlyphs" stroke="#595959" stroke-width="0.3">Office Supplies</text>
<text x="1645.24" y="931.22" font-size="15.8" fill="#595959" font-weight="bold" textLength="66.25" lengthAdjust="spacingAndGlyphs" stroke="#595959" stroke-width="0.3">Furniture</text>
<text x="1629.50" y="957.25" font-size="15.8" fill="#595959" font-weight="bold" textLength="82.00" lengthAdjust="spacingAndGlyphs" stroke="#595959" stroke-width="0.3">Technology</text>
<text x="1602.10" y="983.28" font-size="15.8" fill="#595959" font-weight="bold" textLength="109.40" lengthAdjust="spacingAndGlyphs" stroke="#595959" stroke-width="0.3">Office Supplies</text>
<text x="1645.24" y="1009.31" font-size="15.8" fill="#595959" font-weight="bold" textLength="66.25" lengthAdjust="spacingAndGlyphs" stroke="#595959" stroke-width="0.3">Furniture</text>
<text x="1645.24" y="1035.34" font-size="15.8" fill="#595959" font-weight="bold" textLength="66.25" lengthAdjust="spacingAndGlyphs" stroke="#595959" stroke-width="0.3">Furniture</text>
<text x="0.00" y="0.00" font-size="15.8" fill="#595959" font-weight="bold" transform="translate(1565.90 667.70) rotate(-90)" textLength="107.80" lengthAdjust="spacingAndGlyphs" stroke="#595959" stroke-width="0.3">Standard Class</text>
<text x="0.00" y="0.00" font-size="15.8" fill="#595959" font-weight="bold" transform="translate(1565.90 817.80) rotate(-90)" textLength="96.10" lengthAdjust="spacingAndGlyphs" stroke="#595959" stroke-width="0.3">Second Class</text>
<text x="0.00" y="0.00" font-size="15.8" fill="#595959" font-weight="bold" transform="translate(1544.20 919.70) rotate(-90)" textLength="39.50" lengthAdjust="spacingAndGlyphs" stroke="#595959" stroke-width="0.3">Same</text>
<text x="-0.97" y="0.00" font-size="15.8" fill="#595959" font-weight="bold" transform="translate(1563.60 912.70) rotate(-90)" textLength="28.06" lengthAdjust="spacingAndGlyphs" stroke="#595959" stroke-width="0.3">Day</text>
<text x="-0.94" y="0.00" font-size="15.8" fill="#595959" font-weight="bold" transform="translate(1565.90 1028.80) rotate(-90)" textLength="75.94" lengthAdjust="spacingAndGlyphs" stroke="#595959" stroke-width="0.3">First Class</text>
<text x="1317.90" y="1070.50" font-size="15.8" fill="#595959" font-weight="bold" textLength="31.59" lengthAdjust="spacingAndGlyphs" stroke="#595959" stroke-width="0.3">-150</text>
<text x="1449.40" y="1070.50" font-size="15.8" fill="#595959" font-weight="bold" textLength="32.18" lengthAdjust="spacingAndGlyphs" stroke="#595959" stroke-width="0.3">-100</text>
<text x="1585.60" y="1070.50" font-size="15.8" fill="#595959" font-weight="bold" textLength="22.19" lengthAdjust="spacingAndGlyphs" stroke="#595959" stroke-width="0.3">-50</text>
<text x="1723.90" y="1070.50" font-size="15.8" fill="#595959" font-weight="bold" textLength="8.10" lengthAdjust="spacingAndGlyphs" stroke="#595959" stroke-width="0.3">0</text>
<text x="1851.10" y="1070.50" font-size="15.8" fill="#595959" font-weight="bold" textLength="16.89" lengthAdjust="spacingAndGlyphs" stroke="#595959" stroke-width="0.3">50</text>
<text x="1977.89" y="1070.50" font-size="15.8" fill="#595959" font-weight="bold" textLength="26.59" lengthAdjust="spacingAndGlyphs" stroke="#595959" stroke-width="0.3">100</text>
<text x="2109.98" y="1070.50" font-size="15.8" fill="#595959" font-weight="bold" textLength="27.00" lengthAdjust="spacingAndGlyphs" stroke="#595959" stroke-width="0.3">150</text>
<text x="2241.60" y="1070.50" font-size="15.8" fill="#595959" font-weight="bold" textLength="26.58" lengthAdjust="spacingAndGlyphs" stroke="#595959" stroke-width="0.3">200</text>
<rect x="2311.00" y="579.95" width="7.00" height="7.00" fill="#2f5f80"/>
<text x="2320.50" y="586.70" font-size="13" fill="#595959" textLength="112.11" lengthAdjust="spacingAndGlyphs">First Class   Furniture</text>
<rect x="2311.00" y="604.58" width="7.00" height="7.00" fill="#2f5f80"/>
<text x="2320.51" y="611.33" font-size="13" fill="#595959" textLength="104.20" lengthAdjust="spacingAndGlyphs">First Class Furniture</text>
<rect x="2311.00" y="629.21" width="7.00" height="7.00" fill="#2f5f80"/>
<text x="2320.50" y="635.96" font-size="13" fill="#595959" textLength="136.85" lengthAdjust="spacingAndGlyphs">First Class Office Supplies</text>
<rect x="2311.00" y="653.84" width="7.00" height="7.00" fill="#2f5f80"/>
<text x="2320.50" y="660.59" font-size="13" fill="#595959" textLength="117.05" lengthAdjust="spacingAndGlyphs">First Class Technology</text>
<rect x="2311.00" y="678.47" width="7.00" height="7.00" fill="#2f5f80"/>
<text x="2321.40" y="685.22" font-size="13" fill="#595959" textLength="101.51" lengthAdjust="spacingAndGlyphs">Same DayFurniture</text>
<rect x="2311.00" y="703.10" width="7.00" height="7.00" fill="#2f5f80"/>
<text x="2321.40" y="709.85" font-size="13" fill="#595959" textLength="131.95" lengthAdjust="spacingAndGlyphs">Same DayOffice Supplies</text>
<rect x="2311.00" y="727.73" width="7.00" height="7.00" fill="#2f5f80"/>
<text x="2321.40" y="734.48" font-size="13" fill="#595959" textLength="114.45" lengthAdjust="spacingAndGlyphs">Same DayTechnology</text>
<rect x="2311.00" y="752.36" width="7.00" height="7.00" fill="#2f5f80"/>
<text x="2321.40" y="759.11" font-size="13" fill="#595959" textLength="131.31" lengthAdjust="spacingAndGlyphs">Second Class    Furniture</text>
<rect x="2311.00" y="776.99" width="7.00" height="7.00" fill="#2f5f80"/>
<text x="2321.40" y="783.74" font-size="13" fill="#595959" textLength="162.15" lengthAdjust="spacingAndGlyphs">Second Class    Office Supplies</text>
<rect x="2311.00" y="801.62" width="7.00" height="7.00" fill="#c9e5f4"/>
<text x="2321.40" y="808.37" font-size="13" fill="#595959" textLength="142.06" lengthAdjust="spacingAndGlyphs">Second Class    Technology</text>
<rect x="2311.00" y="826.25" width="7.00" height="7.00" fill="#2f5f80"/>
<text x="2321.40" y="833.00" font-size="13" fill="#595959" textLength="159.95" lengthAdjust="spacingAndGlyphs">Second Class   Office Supplies</text>
<rect x="2311.00" y="850.88" width="7.00" height="7.00" fill="#2f5f80"/>
<text x="2321.40" y="857.63" font-size="13" fill="#595959" textLength="121.21" lengthAdjust="spacingAndGlyphs">Second Class Furniture</text>
<rect x="2311.00" y="875.51" width="7.00" height="7.00" fill="#2f5f80"/>
<text x="2321.40" y="882.26" font-size="13" fill="#595959" textLength="152.16" lengthAdjust="spacingAndGlyphs">Second Class Office Supplies</text>
<rect x="2311.00" y="900.14" width="7.00" height="7.00" fill="#2f5f80"/>
<text x="2321.40" y="906.89" font-size="13" fill="#595959" textLength="132.46" lengthAdjust="spacingAndGlyphs">Second Class Technology</text>
<rect x="2311.00" y="924.77" width="7.00" height="7.00" fill="#2f5f80"/>
<text x="2321.40" y="931.52" font-size="13" fill="#595959" textLength="149.96" lengthAdjust="spacingAndGlyphs">Standard Class    Technology</text>
<rect x="2311.00" y="949.40" width="7.00" height="7.00" fill="#2f5f80"/>
<text x="2321.40" y="956.15" font-size="13" fill="#595959" textLength="168.35" lengthAdjust="spacingAndGlyphs">Standard Class   Office Supplies</text>
<rect x="2311.00" y="974.03" width="7.00" height="7.00" fill="#2f5f80"/>
<text x="2321.40" y="980.78" font-size="13" fill="#595959" textLength="129.11" lengthAdjust="spacingAndGlyphs">Standard Class Furniture</text>
<rect x="2311.00" y="998.66" width="7.00" height="7.00" fill="#2f5f80"/>
<text x="2321.40" y="1005.41" font-size="13" fill="#595959" textLength="159.95" lengthAdjust="spacingAndGlyphs">Standard Class Office Supplies</text>
<rect x="2311.00" y="1023.29" width="7.00" height="7.00" fill="#2f5f80"/>
<text x="2321.40" y="1030.04" font-size="13" fill="#595959" textLength="140.26" lengthAdjust="spacingAndGlyphs">Standard Class Technology</text>
</svg>
</body></html>
